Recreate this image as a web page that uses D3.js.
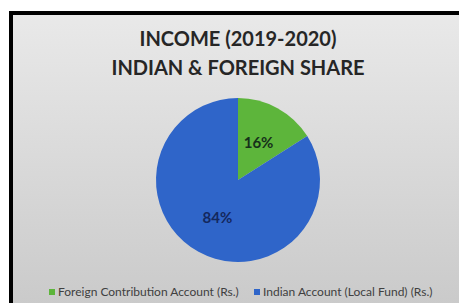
<!DOCTYPE html>
<html>
<meta charset="utf-8">
<head>
<style>
  body { margin: 0; background: #fff; }
  svg { display: block; }
</style>
</head>
<body>
<script src="https://d3js.org/d3.v7.min.js"></script>
<script>

// chart data
var categories = ["Foreign Contribution Account (Rs.)", "Indian Account (Local Fund) (Rs.)"];
var shares = [16, 84];
var sliceLabels = ["16%", "84%"];
var titleLines = ["INCOME (2019-2020)", "INDIAN & FOREIGN SHARE"];

var width = 459, height = 303;
var cx = 238, cy = 180, radius = 82;

var color = d3.scaleOrdinal().domain(categories).range(["#5db53b", "#2f65c9"]);
var labelColor = ["#16301a", "#14285e"];

var svg = d3.select("body").append("svg")
  .attr("width", width)
  .attr("height", height);

// background gradient
var grad = svg.append("defs").append("linearGradient")
  .attr("id", "bg").attr("x1", 0).attr("y1", 0).attr("x2", 0).attr("y2", 1);
grad.append("stop").attr("offset", "0%").attr("stop-color", "#e9e9e9");
grad.append("stop").attr("offset", "100%").attr("stop-color", "#c9c9c9");

svg.append("rect")
  .attr("x", 11).attr("y", 13)
  .attr("width", width).attr("height", height)
  .attr("fill", "url(#bg)")
  .attr("stroke", "#000")
  .attr("stroke-width", 4);

// title
svg.append("g").selectAll("text")
  .data(titleLines)
  .enter().append("text")
  .attr("x", cx)
  .attr("y", function(d, i) { return 46 + i * 29; })
  .attr("text-anchor", "middle")
  .style("font-family", "Lato, 'Open Sans', sans-serif")
  .style("font-weight", "bold")
  .style("font-size", "20px")
  .style("fill", "#262626")
  .text(function(d) { return d; });

// pie
var pie = d3.pie().sort(null).value(function(d) { return d; });
var arc = d3.arc().innerRadius(0).outerRadius(radius);
var labelArc = d3.arc().innerRadius(radius * 0.52).outerRadius(radius * 0.52);

var slices = svg.append("g")
  .attr("transform", "translate(" + cx + "," + cy + ")")
  .selectAll(".slice")
  .data(pie(shares))
  .enter().append("g")
  .attr("class", "slice");

slices.append("path")
  .attr("d", arc)
  .style("fill", function(d, i) { return color(categories[i]); });

slices.append("text")
  .attr("transform", function(d) { return "translate(" + labelArc.centroid(d) + ")"; })
  .attr("dy", "0.35em")
  .attr("text-anchor", "middle")
  .style("font-family", "Lato, 'Open Sans', sans-serif")
  .style("font-weight", "bold")
  .style("font-size", "15px")
  .style("fill", function(d, i) { return labelColor[i]; })
  .text(function(d, i) { return sliceLabels[i]; });

// legend
var legendX = [49, 254];
var legend = svg.selectAll(".legend")
  .data(categories)
  .enter().append("g")
  .attr("class", "legend")
  .attr("transform", function(d, i) { return "translate(" + legendX[i] + ",292)"; });

legend.append("rect")
  .attr("x", 0).attr("y", -3)
  .attr("width", 6).attr("height", 6)
  .style("fill", function(d) { return color(d); });

legend.append("text")
  .attr("x", 9)
  .attr("dy", "0.35em")
  .style("font-family", "Lato, 'Open Sans', sans-serif")
  .style("font-size", "12px")
  .style("fill", "#404040")
  .text(function(d) { return d; });

</script>
</body>
</html>
